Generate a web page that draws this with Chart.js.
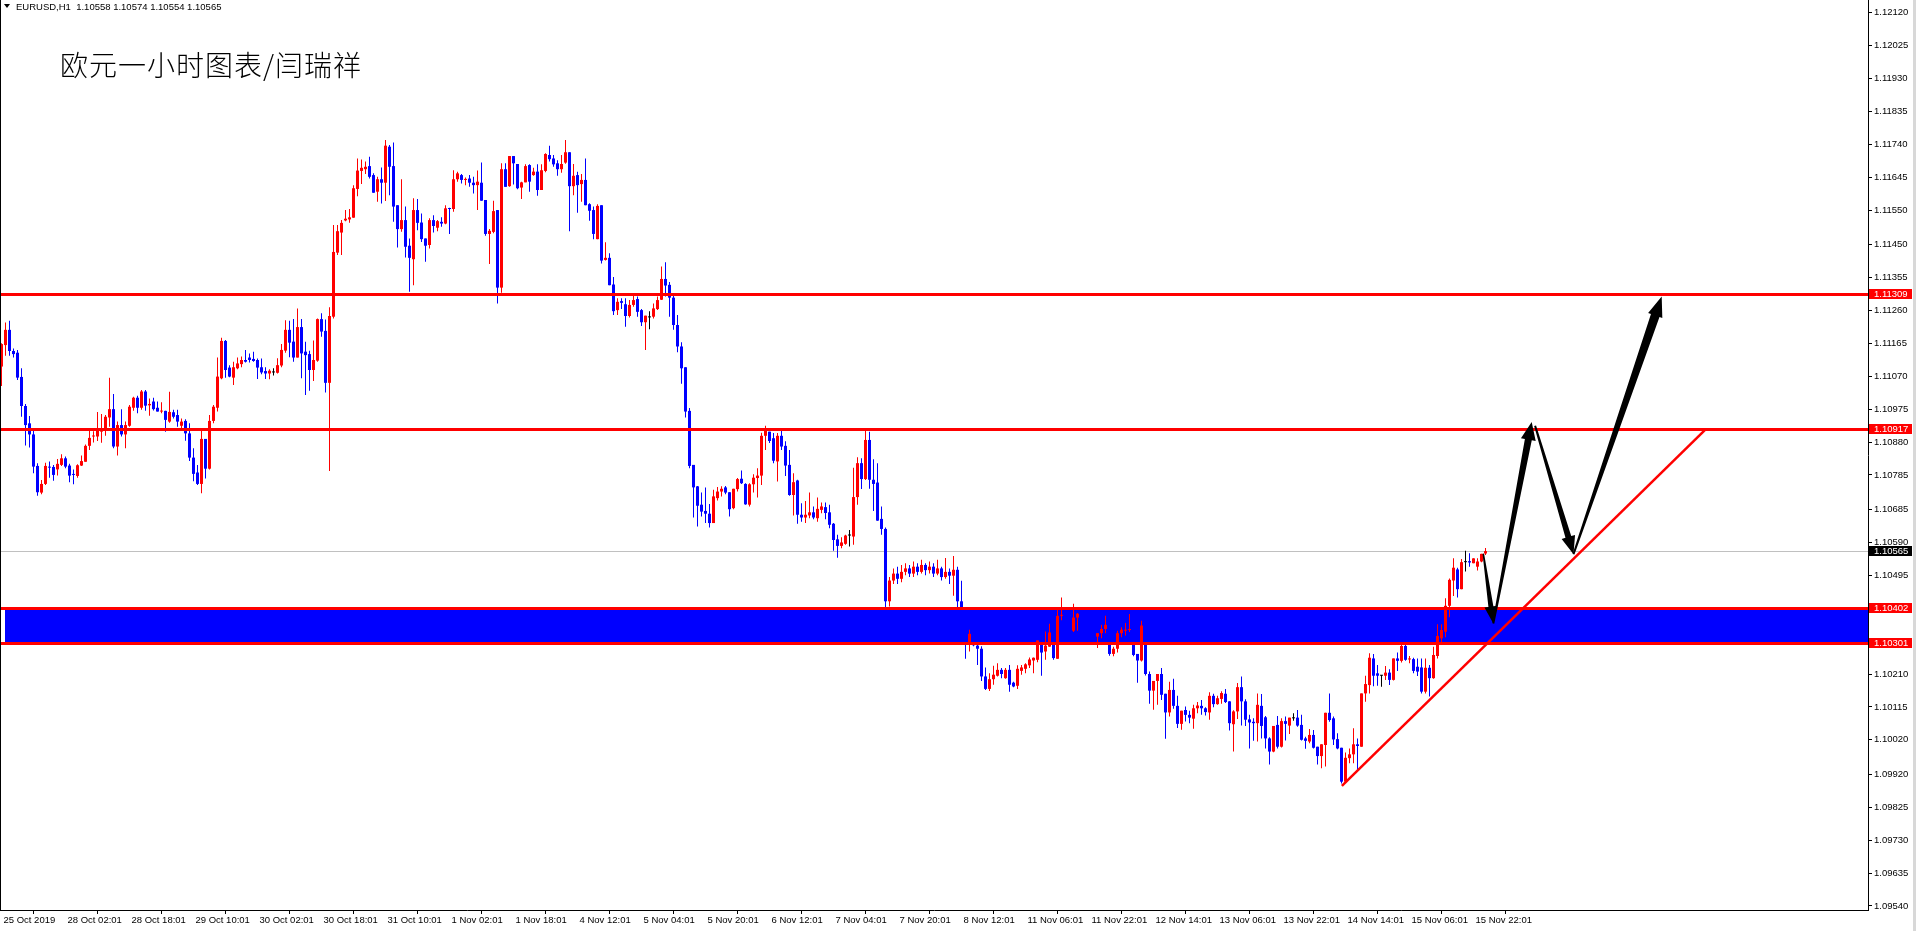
<!DOCTYPE html>
<html><head><meta charset="utf-8">
<script src="https://cdn.jsdelivr.net/npm/chart.js@4.4.1/dist/chart.umd.min.js"></script>
<style>
html,body{margin:0;padding:0;background:#fff;overflow:hidden;}
#wrap{position:relative;width:1916px;height:931px;}
#c{position:absolute;left:0;top:0;}
#tri{position:absolute;left:4px;top:4px;width:0;height:0;border-left:3px solid transparent;border-right:3px solid transparent;border-top:4px solid #000;}
#hdr{position:absolute;left:16px;top:0;font:9.5px 'Liberation Sans',Arial,sans-serif;color:#000;line-height:13px;white-space:pre;}
#ttl{position:absolute;left:60px;top:48px;font:300 28px 'Noto Sans CJK SC',sans-serif;letter-spacing:1px;line-height:32px;white-space:nowrap;color:#000;}
</style></head>
<body>
<div id="wrap">
<canvas id="c" width="1916" height="931"></canvas>
<div id="tri"></div><div id="hdr"></div>
<div id="ttl">欧元一小时图表/闫瑞祥</div>
</div>
<script>
const symbol = "EURUSD,H1";
const xTickBars = [0,16,32,48,64,80,96,112,128,144,160,176,192,208,224,240,256,272,288,304,320,336,352,368];
const xTickLabels = ["25 Oct 2019","28 Oct 02:01","28 Oct 18:01","29 Oct 10:01","30 Oct 02:01","30 Oct 18:01","31 Oct 10:01","1 Nov 02:01","1 Nov 18:01","4 Nov 12:01","5 Nov 04:01","5 Nov 20:01","6 Nov 12:01","7 Nov 04:01","7 Nov 20:01","8 Nov 12:01","11 Nov 06:01","11 Nov 22:01","12 Nov 14:01","13 Nov 06:01","13 Nov 22:01","14 Nov 14:01","15 Nov 06:01","15 Nov 22:01"];
const yTickVals = [1.12120,1.12025,1.11930,1.11835,1.11740,1.11645,1.11550,1.11450,1.11355,1.11260,1.11165,1.11070,1.10975,1.10880,1.10785,1.10685,1.10590,1.10495,1.10210,1.10115,1.10020,1.09920,1.09825,1.09730,1.09635,1.09540];

const O = [
1.11098,1.11160,1.11204,1.11143,1.11138,1.11068,1.10984,1.10934,1.10902,1.10811,
1.10734,1.10759,1.10808,1.10808,1.10801,1.10814,1.10833,1.10812,1.10787,1.10782,
1.10812,1.10823,1.10869,1.10896,1.10896,1.10910,1.10920,1.10951,1.10975,1.10867,
1.10929,1.10902,1.10927,1.10979,1.11008,1.10979,1.11026,1.10986,1.10997,1.10979,
1.10968,1.10970,1.10939,1.10966,1.10958,1.10927,1.10941,1.10905,1.10835,1.10792,
1.10759,1.10889,1.10803,1.10941,1.10979,1.11064,1.11172,1.11095,1.11066,1.11093,
1.11105,1.11117,1.11124,1.11120,1.11117,1.11096,1.11085,1.11078,1.11081,1.11080,
1.11101,1.11144,1.11204,1.11170,1.11124,1.11212,1.11141,1.11134,1.11088,1.11115,
1.11235,1.11201,1.11051,1.11242,1.11427,1.11485,1.11520,1.11523,1.11528,1.11611,
1.11663,1.11668,1.11677,1.11651,1.11603,1.11639,1.11629,1.11733,1.11677,1.11564,
1.11495,1.11521,1.11447,1.11408,1.11550,1.11514,1.11468,1.11449,1.11521,1.11499,
1.11516,1.11511,1.11555,1.11553,1.11639,1.11651,1.11637,1.11641,1.11629,1.11622,
1.11629,1.11579,1.11481,1.11487,1.11550,1.11326,1.11668,1.11619,1.11706,1.11683,
1.11615,1.11630,1.11680,1.11651,1.11661,1.11608,1.11663,1.11709,1.11699,1.11685,
1.11668,1.11687,1.11717,1.11619,1.11651,1.11625,1.11637,1.11567,1.11550,1.11466,
1.11564,1.11406,1.11412,1.11335,1.11261,1.11287,1.11278,1.11244,1.11276,1.11293,
1.11261,1.11226,1.11240,1.11242,1.11264,1.11291,1.11351,1.11334,1.11297,1.11218,
1.11156,1.11096,1.10970,1.10814,1.10752,1.10699,1.10681,1.10673,1.10646,1.10718,
1.10737,1.10749,1.10735,1.10689,1.10744,1.10774,1.10759,1.10699,1.10758,1.10776,
1.10783,1.10898,1.10910,1.10891,1.10824,1.10898,1.10869,1.10814,1.10727,1.10769,
1.10670,1.10662,1.10668,1.10677,1.10660,1.10684,1.10692,1.10677,1.10644,1.10599,
1.10580,1.10586,1.10610,1.10607,1.10721,1.10819,1.10773,1.10886,1.10771,1.10763,
1.10658,1.10629,1.10420,1.10480,1.10500,1.10485,1.10505,1.10515,1.10500,1.10520,
1.10505,1.10525,1.10510,1.10520,1.10500,1.10515,1.10490,1.10505,1.10494,1.10511,
1.10420,1.10360,1.10299,1.10326,1.10292,1.10283,1.10203,1.10167,1.10195,1.10205,
1.10222,1.10198,1.10222,1.10185,1.10176,1.10219,1.10225,1.10235,1.10249,1.10251,
1.10304,1.10275,1.10289,1.10330,1.10254,1.10378,1.10381,1.10360,1.10335,1.10373,
1.10384,1.10365,1.10340,1.10330,1.10318,1.10328,1.10340,1.10352,1.10268,1.10283,
1.10328,1.10335,1.10337,1.10340,1.10268,1.10249,1.10350,1.10210,1.10162,1.10190,
1.10210,1.10153,1.10099,1.10164,1.10118,1.10066,1.10106,1.10092,1.10081,1.10111,
1.10118,1.10111,1.10099,1.10147,1.10123,1.10138,1.10153,1.10131,1.10065,1.10102,
1.10172,1.10131,1.10079,1.10072,1.10068,1.10118,1.10085,1.10024,1.09986,1.10063,
1.10000,1.10074,1.10061,1.10082,1.10084,1.10063,1.10024,1.10015,1.10034,1.10000,
1.09973,1.10005,1.10098,1.10082,1.10022,1.09997,1.09899,1.09967,1.09978,1.10007,
1.10000,1.10154,1.10178,1.10255,1.10212,1.10205,1.10205,1.10214,1.10193,1.10255,
1.10248,1.10291,1.10252,1.10253,1.10231,1.10229,1.10159,1.10228,1.10198,1.10262,
1.10313,1.10332,1.10407,1.10480,1.10512,1.10455,1.10533,1.10536,1.10530,1.10520,
1.10535,1.10558];

const H = [
1.11165,1.11225,1.11230,1.11150,1.11146,1.11093,1.10990,1.10955,1.10918,1.10819,
1.10770,1.10820,1.10824,1.10814,1.10831,1.10845,1.10838,1.10817,1.10801,1.10816,
1.10841,1.10873,1.10913,1.10911,1.10967,1.10961,1.10958,1.11066,1.11019,1.10939,
1.10975,1.10939,1.10987,1.11011,1.11014,1.11030,1.11030,1.11006,1.11008,1.10997,
1.10995,1.10970,1.11025,1.10973,1.10973,1.10948,1.10946,1.10934,1.10862,1.10814,
1.10913,1.10889,1.10958,1.10987,1.11124,1.11181,1.11175,1.11102,1.11112,1.11124,
1.11127,1.11146,1.11136,1.11141,1.11121,1.11121,1.11096,1.11090,1.11093,1.11122,
1.11163,1.11232,1.11230,1.11235,1.11266,1.11235,1.11170,1.11144,1.11173,1.11237,
1.11252,1.11234,1.11269,1.11507,1.11507,1.11521,1.11550,1.11553,1.11622,1.11699,
1.11696,1.11690,1.11704,1.11656,1.11646,1.11673,1.11752,1.11738,1.11745,1.11564,
1.11639,1.11560,1.11468,1.11584,1.11582,1.11540,1.11468,1.11526,1.11535,1.11521,
1.11529,1.11564,1.11557,1.11665,1.11661,1.11654,1.11644,1.11651,1.11646,1.11664,
1.11687,1.11579,1.11495,1.11577,1.11550,1.11685,1.11685,1.11706,1.11706,1.11683,
1.11632,1.11682,1.11682,1.11672,1.11682,1.11682,1.11714,1.11736,1.11709,1.11694,
1.11709,1.11752,1.11717,1.11683,1.11661,1.11654,1.11699,1.11570,1.11560,1.11567,
1.11564,1.11457,1.11425,1.11357,1.11295,1.11295,1.11295,1.11290,1.11306,1.11300,
1.11264,1.11245,1.11258,1.11280,1.11300,1.11387,1.11399,1.11342,1.11305,1.11247,
1.11168,1.11096,1.10978,1.10814,1.10753,1.10734,1.10749,1.10701,1.10742,1.10750,
1.10752,1.10753,1.10735,1.10745,1.10776,1.10798,1.10761,1.10761,1.10787,1.10804,
1.10907,1.10927,1.10910,1.10906,1.10906,1.10915,1.10882,1.10857,1.10790,1.10771,
1.10703,1.10710,1.10734,1.10694,1.10720,1.10705,1.10705,1.10699,1.10646,1.10612,
1.10605,1.10612,1.10626,1.10806,1.10836,1.10833,1.10915,1.10910,1.10830,1.10819,
1.10694,1.10633,1.10490,1.10515,1.10520,1.10525,1.10530,1.10525,1.10535,1.10530,
1.10540,1.10530,1.10535,1.10530,1.10540,1.10520,1.10545,1.10515,1.10551,1.10520,
1.10479,1.10380,1.10338,1.10330,1.10295,1.10290,1.10229,1.10212,1.10234,1.10241,
1.10227,1.10227,1.10236,1.10188,1.10235,1.10236,1.10241,1.10258,1.10258,1.10307,
1.10304,1.10333,1.10355,1.10335,1.10400,1.10431,1.10395,1.10380,1.10413,1.10386,
1.10395,1.10375,1.10350,1.10340,1.10328,1.10352,1.10378,1.10360,1.10289,1.10335,
1.10345,1.10357,1.10383,1.10345,1.10268,1.10364,1.10350,1.10217,1.10190,1.10210,
1.10227,1.10153,1.10188,1.10196,1.10147,1.10104,1.10116,1.10104,1.10121,1.10129,
1.10135,1.10114,1.10157,1.10153,1.10147,1.10160,1.10167,1.10131,1.10105,1.10184,
1.10203,1.10137,1.10092,1.10082,1.10154,1.10152,1.10089,1.10027,1.10060,1.10089,
1.10082,1.10087,1.10084,1.10097,1.10106,1.10092,1.10029,1.10051,1.10048,1.10000,
1.10007,1.10098,1.10154,1.10087,1.10039,1.09997,1.09983,1.09995,1.10053,1.10024,
1.10154,1.10205,1.10270,1.10268,1.10236,1.10207,1.10233,1.10224,1.10255,1.10272,
1.10294,1.10299,1.10262,1.10257,1.10255,1.10255,1.10255,1.10236,1.10289,1.10354,
1.10354,1.10429,1.10486,1.10544,1.10517,1.10542,1.10566,1.10559,1.10544,1.10544,
1.10557,1.10574];

const L = [
1.11042,1.11129,1.11129,1.11124,1.11059,1.10953,1.10870,1.10864,1.10790,1.10725,
1.10729,1.10756,1.10777,1.10768,1.10783,1.10811,1.10804,1.10764,1.10758,1.10777,
1.10811,1.10823,1.10857,1.10879,1.10883,1.10878,1.10898,1.10924,1.10862,1.10841,
1.10896,1.10862,1.10924,1.10970,1.10963,1.10973,1.10970,1.10956,1.10971,1.10968,
1.10963,1.10910,1.10936,1.10948,1.10924,1.10920,1.10884,1.10825,1.10767,1.10756,
1.10732,1.10775,1.10801,1.10934,1.10968,1.11061,1.11066,1.11067,1.11045,1.11090,
1.11096,1.11110,1.11110,1.11112,1.11062,1.11076,1.11062,1.11061,1.11072,1.11078,
1.11096,1.11138,1.11125,1.11112,1.11124,1.11064,1.11016,1.11028,1.11056,1.11112,
1.11184,1.11023,1.10796,1.11237,1.11420,1.11420,1.11518,1.11513,1.11528,1.11590,
1.11625,1.11654,1.11641,1.11600,1.11574,1.11569,1.11576,1.11593,1.11516,1.11442,
1.11487,1.11413,1.11314,1.11333,1.11492,1.11458,1.11401,1.11439,1.11485,1.11489,
1.11502,1.11509,1.11481,1.11545,1.11632,1.11627,1.11622,1.11617,1.11598,1.11550,
1.11577,1.11476,1.11394,1.11483,1.11280,1.11311,1.11617,1.11617,1.11624,1.11610,
1.11582,1.11630,1.11603,1.11649,1.11591,1.11608,1.11659,1.11690,1.11675,1.11649,
1.11658,1.11684,1.11489,1.11593,1.11542,1.11574,1.11564,1.11519,1.11466,1.11466,
1.11396,1.11404,1.11333,1.11247,1.11247,1.11264,1.11213,1.11240,1.11271,1.11242,
1.11215,1.11146,1.11206,1.11237,1.11261,1.11290,1.11300,1.11242,1.11204,1.11139,
1.11048,1.10951,1.10804,1.10662,1.10636,1.10665,1.10646,1.10633,1.10646,1.10711,
1.10723,1.10729,1.10665,1.10686,1.10737,1.10759,1.10699,1.10694,1.10734,1.10720,
1.10756,1.10857,1.10877,1.10819,1.10766,1.10857,1.10782,1.10725,1.10668,1.10644,
1.10650,1.10646,1.10660,1.10657,1.10650,1.10674,1.10657,1.10631,1.10566,1.10546,
1.10573,1.10583,1.10578,1.10583,1.10699,1.10744,1.10770,1.10745,1.10681,1.10653,
1.10612,1.10400,1.10405,1.10470,1.10470,1.10475,1.10495,1.10490,1.10490,1.10495,
1.10500,1.10495,1.10500,1.10490,1.10495,1.10480,1.10485,1.10470,1.10436,1.10400,
1.10330,1.10254,1.10275,1.10290,1.10236,1.10190,1.10164,1.10161,1.10179,1.10203,
1.10198,1.10196,1.10159,1.10172,1.10167,1.10208,1.10212,1.10227,1.10212,1.10244,
1.10205,1.10251,1.10289,1.10251,1.10254,1.10365,1.10340,1.10320,1.10331,1.10335,
1.10355,1.10330,1.10320,1.10310,1.10285,1.10313,1.10328,1.10263,1.10261,1.10272,
1.10316,1.10321,1.10331,1.10261,1.10185,1.10246,1.10206,1.10124,1.10107,1.10121,
1.10135,1.10023,1.10087,1.10110,1.10054,1.10049,1.10073,1.10068,1.10052,1.10097,
1.10092,1.10090,1.10078,1.10114,1.10121,1.10124,1.10126,1.10047,1.09986,1.10080,
1.10061,1.10060,1.09995,1.10017,1.10015,1.10024,1.09995,1.09949,1.09984,1.09995,
1.09998,1.10018,1.10037,1.10075,1.10058,1.10018,1.09994,1.10010,1.09995,1.09949,
1.09938,1.09943,1.10072,1.10005,1.09993,1.09894,1.09896,1.09952,1.09952,1.09933,
1.10000,1.10130,1.10154,1.10175,1.10176,1.10173,1.10193,1.10178,1.10191,1.10219,
1.10243,1.10248,1.10241,1.10212,1.10204,1.10154,1.10154,1.10145,1.10196,1.10255,
1.10299,1.10316,1.10374,1.10435,1.10431,1.10455,1.10506,1.10520,1.10530,1.10509,
1.10533,1.10554];

const C = [
1.11163,1.11204,1.11143,1.11134,1.11066,1.10984,1.10929,1.10902,1.10809,1.10735,
1.10759,1.10811,1.10806,1.10785,1.10817,1.10833,1.10809,1.10783,1.10785,1.10813,
1.10825,1.10869,1.10892,1.10898,1.10920,1.10918,1.10953,1.10975,1.10867,1.10929,
1.10902,1.10929,1.10982,1.11008,1.10979,1.11026,1.10985,1.10990,1.10975,1.10968,
1.10970,1.10944,1.10967,1.10953,1.10939,1.10939,1.10905,1.10835,1.10788,1.10759,
1.10889,1.10803,1.10941,1.10982,1.11069,1.11172,1.11088,1.11069,1.11096,1.11107,
1.11117,1.11112,1.11117,1.11114,1.11095,1.11081,1.11078,1.11086,1.11081,1.11102,
1.11146,1.11204,1.11167,1.11124,1.11212,1.11136,1.11131,1.11088,1.11117,1.11235,
1.11199,1.11051,1.11244,1.11429,1.11489,1.11513,1.11525,1.11529,1.11613,1.11664,
1.11672,1.11675,1.11646,1.11600,1.11639,1.11629,1.11736,1.11675,1.11560,1.11495,
1.11521,1.11444,1.11412,1.11550,1.11513,1.11466,1.11447,1.11521,1.11504,1.11518,
1.11511,1.11555,1.11553,1.11639,1.11656,1.11637,1.11640,1.11629,1.11622,1.11632,
1.11577,1.11481,1.11490,1.11547,1.11326,1.11668,1.11617,1.11706,1.11685,1.11613,
1.11630,1.11677,1.11632,1.11661,1.11608,1.11665,1.11712,1.11697,1.11682,1.11668,
1.11683,1.11717,1.11619,1.11649,1.11622,1.11637,1.11564,1.11548,1.11481,1.11562,
1.11404,1.11412,1.11333,1.11258,1.11285,1.11282,1.11244,1.11276,1.11290,1.11256,
1.11226,1.11245,1.11240,1.11266,1.11290,1.11351,1.11332,1.11297,1.11218,1.11156,
1.11093,1.10968,1.10811,1.10749,1.10696,1.10679,1.10673,1.10646,1.10723,1.10737,
1.10745,1.10734,1.10686,1.10745,1.10773,1.10761,1.10700,1.10758,1.10777,1.10783,
1.10898,1.10912,1.10883,1.10826,1.10898,1.10867,1.10812,1.10727,1.10764,1.10670,
1.10662,1.10670,1.10677,1.10662,1.10687,1.10694,1.10675,1.10641,1.10597,1.10580,
1.10590,1.10610,1.10610,1.10721,1.10819,1.10773,1.10886,1.10771,1.10759,1.10653,
1.10629,1.10420,1.10480,1.10500,1.10485,1.10505,1.10515,1.10500,1.10520,1.10505,
1.10525,1.10510,1.10520,1.10500,1.10515,1.10490,1.10505,1.10494,1.10511,1.10420,
1.10360,1.10300,1.10326,1.10293,1.10283,1.10203,1.10167,1.10195,1.10208,1.10222,
1.10210,1.10222,1.10179,1.10174,1.10225,1.10229,1.10238,1.10252,1.10257,1.10307,
1.10272,1.10292,1.10330,1.10256,1.10378,1.10381,1.10360,1.10335,1.10373,1.10384,
1.10365,1.10340,1.10330,1.10318,1.10328,1.10340,1.10352,1.10268,1.10283,1.10328,
1.10338,1.10338,1.10340,1.10265,1.10249,1.10350,1.10210,1.10162,1.10190,1.10210,
1.10150,1.10099,1.10164,1.10118,1.10066,1.10104,1.10092,1.10084,1.10111,1.10119,
1.10111,1.10100,1.10147,1.10123,1.10140,1.10155,1.10129,1.10068,1.10102,1.10172,
1.10131,1.10078,1.10070,1.10068,1.10121,1.10060,1.10024,1.09986,1.10060,1.10000,
1.10074,1.10066,1.10084,1.10082,1.10061,1.10020,1.10017,1.10034,1.09997,1.09973,
1.10007,1.10098,1.10077,1.10021,1.09995,1.09899,1.09968,1.09978,1.10007,1.10002,
1.10154,1.10181,1.10257,1.10205,1.10205,1.10205,1.10214,1.10193,1.10255,1.10248,
1.10291,1.10251,1.10255,1.10219,1.10217,1.10159,1.10228,1.10198,1.10265,1.10320,
1.10337,1.10407,1.10482,1.10517,1.10455,1.10533,1.10533,1.10532,1.10544,1.10535,
1.10557,1.10565];

// annotations (bar index, price)
const levelLines = [1.11309, 1.10917, 1.10402, 1.10301];
const zoneTop = 1.10402, zoneBottom = 1.10301, zoneStartBar = 1;
const trendFrom = [335.1, 1.09887], trendTo = [425.9, 1.10915];
const arrowFrom = [[370.45,1.10558],[372.95,1.10356],[383.4,1.10927],[393.0,1.10556]];
const arrowTo   = [[372.95,1.10356],[382.55,1.10938],[393.0,1.10556],[415.05,1.11300]];

const N = O.length;
const priceNow = C[N-1];
document.getElementById('hdr').textContent = symbol + "  " + [O[N-1],H[N-1],L[N-1],C[N-1]].map(v=>v.toFixed(5)).join(' ');

const barColors = O.map((o,i)=> C[i] > o ? '#FF0000' : (C[i] < o ? '#0000FF' : '#000000'));
const FONT = {family:"'Liberation Sans', Arial, sans-serif", size:9.5};

function drawArrow(ctx, sx, sy, tx, ty, hl, hw, w0, w1){
  const dx=tx-sx, dy=ty-sy, len=Math.hypot(dx,dy), ux=dx/len, uy=dy/len, nx=-uy, ny=ux;
  const bx=tx-ux*hl, by=ty-uy*hl;
  ctx.beginPath();
  ctx.moveTo(sx+nx*w0/2, sy+ny*w0/2);
  ctx.lineTo(bx+nx*w1/2, by+ny*w1/2);
  ctx.lineTo(bx+nx*hw/2, by+ny*hw/2);
  ctx.lineTo(tx, ty);
  ctx.lineTo(bx-nx*hw/2, by-ny*hw/2);
  ctx.lineTo(bx-nx*w1/2, by-ny*w1/2);
  ctx.lineTo(sx-nx*w0/2, sy-ny*w0/2);
  ctx.closePath();
  ctx.fill();
}
const arrowStyle = [[17,13,1.5,5],[18,15,2,7],[18,14,2,6],[20,15,2,9]];

const overlay = {
  id:'overlay',
  beforeDraw(chart){
    const c=chart.ctx; c.save(); c.fillStyle='#fff'; c.fillRect(0,0,chart.width,chart.height); c.restore();
  },
  beforeDatasetsDraw(chart){
    const {ctx, chartArea:a, scales:{x,y}} = chart;
    ctx.save();
    ctx.beginPath(); ctx.rect(a.left,a.top,a.right-a.left,a.bottom-a.top); ctx.clip();
    const zt=Math.round(y.getPixelForValue(zoneTop)), zb=Math.round(y.getPixelForValue(zoneBottom));
    const zx0=Math.round(x.getPixelForValue(zoneStartBar))-1;
    ctx.fillStyle='#0000FF';
    ctx.fillRect(zx0, zt+2, a.right-zx0, zb-zt-2);
    const py=Math.round(y.getPixelForValue(priceNow))+0.5;
    ctx.strokeStyle='#C0C0C0'; ctx.lineWidth=1;
    ctx.beginPath(); ctx.moveTo(a.left,py); ctx.lineTo(a.right,py); ctx.stroke();
    ctx.restore();
  },
  afterDatasetsDraw(chart){
    const {ctx, chartArea:a, scales:{x,y}} = chart;
    ctx.save();
    ctx.beginPath(); ctx.rect(a.left,a.top,a.right-a.left,a.bottom-a.top); ctx.clip();
    ctx.fillStyle='#FF0000';
    levelLines.forEach(v=>{ const yy=Math.round(y.getPixelForValue(v)); ctx.fillRect(a.left, yy-1, a.right-a.left, 3); });
    ctx.strokeStyle='#FF0000'; ctx.lineWidth=2.5;
    ctx.beginPath();
    ctx.moveTo(x.getPixelForValue(trendFrom[0]), y.getPixelForValue(trendFrom[1]));
    ctx.lineTo(x.getPixelForValue(trendTo[0]), y.getPixelForValue(trendTo[1]));
    ctx.stroke();
    ctx.fillStyle='#000';
    arrowFrom.forEach((s,k)=>{
      const t=arrowTo[k], st=arrowStyle[k];
      drawArrow(ctx, x.getPixelForValue(s[0]), y.getPixelForValue(s[1]), x.getPixelForValue(t[0]), y.getPixelForValue(t[1]), st[0], st[1], st[2], st[3]);
    });
    ctx.restore();
  },
  afterDraw(chart){
    const {ctx, chartArea:a, scales:{y}} = chart;
    ctx.save();
    ctx.fillStyle='#000'; ctx.fillRect(0,0,1,a.bottom);
    ctx.fillStyle='#D8D8D8'; ctx.fillRect(1913,0,3,chart.height);
    ctx.font = "9.5px 'Liberation Sans', Arial, sans-serif";
    ctx.textBaseline='middle'; ctx.textAlign='left';
    const tag=(v,bg)=>{
      const yy=Math.round(y.getPixelForValue(v));
      ctx.fillStyle=bg; ctx.fillRect(a.right+1, yy-5, 43, 10);
      ctx.fillStyle='#fff'; ctx.fillText(v.toFixed(5), a.right+6, yy+0.5);
    };
    levelLines.forEach(v=>tag(v,'#FF0000'));
    tag(priceNow,'#000000');
    ctx.restore();
  }
};

new Chart(document.getElementById('c'), {
  type:'bar',
  data:{datasets:[
    {label:'body', data:O.map((o,i)=>({x:i, y:[o, C[i]]})), backgroundColor:barColors,
     grouped:false, barPercentage:1, categoryPercentage:1, maxBarThickness:3, minBarLength:1, inflateAmount:0, borderWidth:0, order:1},
    {label:'wick', data:O.map((o,i)=>({x:i, y:[L[i], H[i]]})), backgroundColor:barColors,
     grouped:false, barPercentage:1, categoryPercentage:1, maxBarThickness:1, minBarLength:1, inflateAmount:0, borderWidth:0, order:2}
  ]},
  options:{
    responsive:false, animation:false, devicePixelRatio:1,
    layout:{padding:0},
    plugins:{legend:{display:false}, tooltip:{enabled:false}, title:{display:false}},
    scales:{
      x:{type:'linear', position:'bottom', min:-0.375, max:466.625, offset:false,
        afterBuildTicks:s=>{ s.ticks = xTickBars.map(v=>({value:v})); },
        afterFit:s=>{ s.height=21; s.paddingLeft=0; s.paddingRight=0; },
        ticks:{autoSkip:false, maxRotation:0, minRotation:0, align:'start', labelOffset:2, padding:1, color:'#000', font:FONT,
          callback:v=>{ const k=xTickBars.indexOf(v); return k>=0 ? xTickLabels[k] : ''; }},
        grid:{drawOnChartArea:false, drawTicks:true, tickLength:4, color:'#000', lineWidth:1},
        border:{display:true, color:'#000', width:1}
      },
      y:{type:'linear', position:'right', min:1.095284, max:1.121567,
        afterBuildTicks:s=>{ s.ticks = yTickVals.map(v=>({value:v})); },
        afterFit:s=>{ s.width=48; s.paddingTop=0; s.paddingBottom=0; },
        ticks:{padding:2, color:'#000', font:FONT, callback:v=>Number(v).toFixed(5)},
        grid:{drawOnChartArea:false, drawTicks:true, tickLength:4, color:'#000', lineWidth:1},
        border:{display:true, color:'#000', width:1}
      }
    }
  },
  plugins:[overlay]
});
</script>
</body></html>
